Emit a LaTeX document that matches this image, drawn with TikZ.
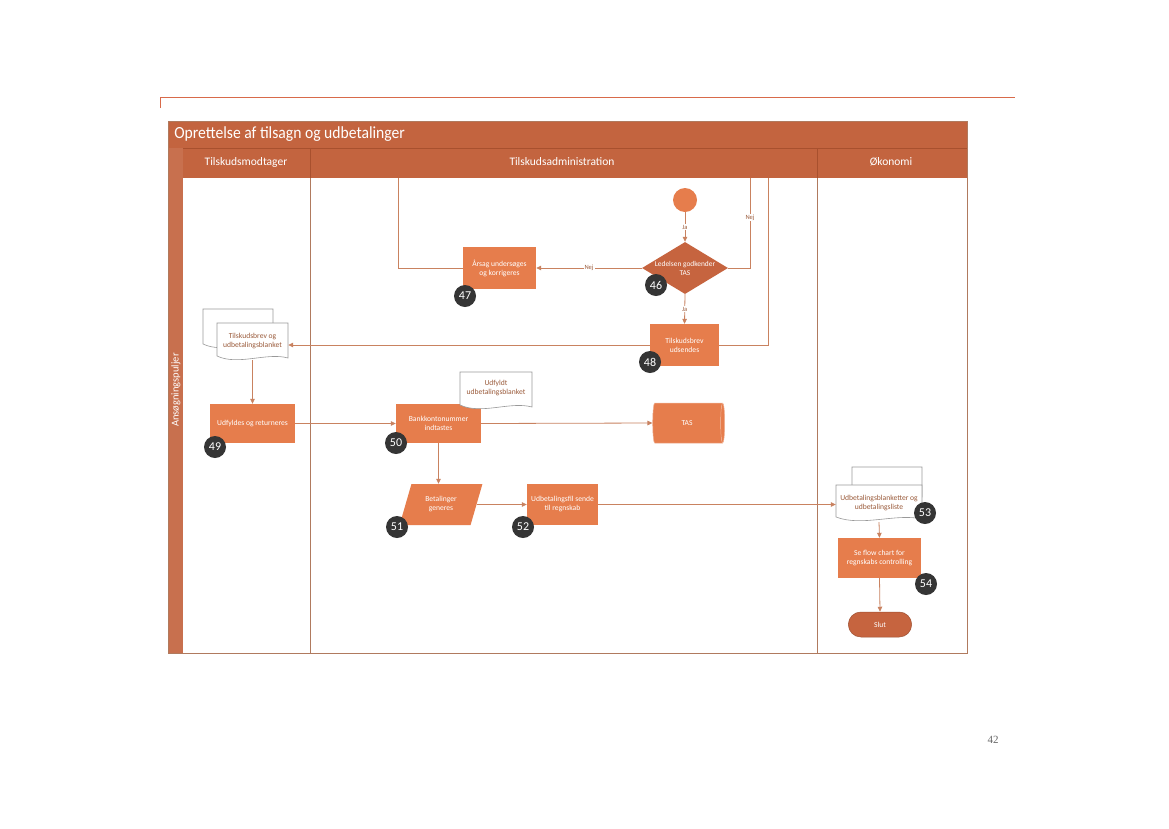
\documentclass[tikz,border=0pt]{standalone}
\usepackage{fontspec}
\setmainfont{Carlito}
\newfontfamily\pgfont{Liberation Serif}
\usetikzlibrary{arrows.meta,shapes.geometric,shapes.misc}
\definecolor{band}{HTML}{C3643F}
\definecolor{bandline}{HTML}{A8502E}
\definecolor{lane}{HTML}{B07A5E}
\definecolor{boxc}{HTML}{E67D4C}
\definecolor{dark}{HTML}{C6643F}
\definecolor{conn}{HTML}{C98260}
\definecolor{badgec}{HTML}{353535}
\definecolor{doctext}{HTML}{9A5A3A}
\definecolor{redline}{HTML}{D86A4A}
\tikzset{
  proc/.style={rectangle, fill=boxc, text=white, align=center, inner sep=1pt, font=\fontsize{7.6}{9}\selectfont},
  badge/.style={circle, fill=badgec, text=white, minimum size=22pt, inner sep=0pt, font=\fontsize{12}{14}\selectfont},
  conn/.style={draw=conn, line width=0.8pt},
  arr/.style={conn, -{Triangle[length=5pt,width=4.5pt]}},
  lbl/.style={fill=white, inner sep=1pt, text=doctext, font=\fontsize{6.5}{7}\selectfont},
  docline/.style={draw=gray!80, line width=0.6pt, fill=white},
  doctxt/.style={rectangle, text=doctext, align=center, inner sep=0pt, font=\fontsize{7.6}{9}\selectfont},
  hdr/.style={text=white, font=\fontsize{11.5}{13}\selectfont}
}
\begin{document}
\begin{tikzpicture}[x=1pt,y=-1pt]
\useasboundingbox[fill=white] (0,0) rectangle (1169,828);
% top rule
\draw[redline, line width=0.6pt] (160,108) -- (160,97) -- (1015,97);
% frame and bands
\fill[band] (168,121) rectangle (967,178);
\fill[band!92!white] (168,148) rectangle (183,653);
\draw[bandline, line width=0.5pt] (183,148) -- (967,148);
\draw[bandline, line width=0.5pt] (310,148) -- (310,178) (817,148) -- (817,178);
\draw[lane, line width=0.6pt] (310,178) -- (310,653) (817,178) -- (817,653);
\draw[lane, line width=0.8pt] (168,121) rectangle (967,653);
\node[anchor=west, text=white, font=\fontsize{17}{20}\selectfont, xscale=0.92] (title) at (171,134) {Oprettelse af tilsagn og udbetalinger};
\node[hdr] (h1) at (246,162) {Tilskudsmodtager};
\node[hdr] (h2) at (562,162) {Tilskudsadministration};
\node[hdr] (h3) at (891,162) {Økonomi};
\node[text=white, font=\fontsize{10.5}{12}\selectfont, rotate=90] (h4) at (176,390) {Ansøgningspuljer};
% coordinates at top of lane
\coordinate (up1) at (398,178);
\coordinate (up2) at (750,178);
\coordinate (up3) at (768,178);
% nodes
\node[circle, fill=boxc, minimum size=24pt, inner sep=0pt] (start) at (685,200) {};
\node[diamond, aspect=1.65, fill=dark, text=white, align=center, minimum width=86pt, minimum height=52pt, inner sep=0pt, font=\fontsize{7.4}{9}\selectfont] (d46) at (685,268) {Ledelsen godkender\\TAS};
\node[proc, minimum width=73pt, minimum height=42pt] (n47) at (499.5,268) {Årsag undersøges\\og korrigeres};
\node[proc, minimum width=69pt, minimum height=42pt] (n48) at (684.5,345) {Tilskudsbrev\\udsendes};
\node[proc, minimum width=85pt, minimum height=39pt] (n49) at (252.5,423.5) {Udfyldes og returneres};
\node[proc, minimum width=85pt, minimum height=39pt] (n50) at (438.5,423.5) {Bankkontonummer\\indtastes};
\node[cylinder, draw=boxc!60!white, line width=0.5pt, shape aspect=0.35, minimum width=40pt, minimum height=72pt, text=white, font=\fontsize{7.6}{9}\selectfont, cylinder uses custom fill, cylinder body fill=boxc, cylinder end fill=boxc] (tas) at (687,423) {TAS};
\node[trapezium, trapezium left angle=68, trapezium right angle=112, trapezium stretches=true, fill=boxc, text=white, align=center, minimum width=83pt, minimum height=41pt, inner sep=0pt, font=\fontsize{7.6}{9}\selectfont] (n51) at (441,504.5) {Betalinger\\generes};
\node[proc, minimum width=71pt, minimum height=41pt] (n52) at (562.5,504.5) {Udbetalingsfil sende\\til regnskab};
\node[proc, minimum width=83pt, minimum height=40pt] (n54) at (879.5,558) {Se flow chart for\\regnskabs controlling};
\node[rounded rectangle, fill=dark, draw=dark!80!black, line width=0.5pt, text=white, minimum width=70pt, minimum height=25pt, font=\fontsize{7.6}{9}\selectfont] (slut) at (880,624.5) {Slut};
% document 1
\draw[docline] (203,309) -- (273,309) -- (273,346) .. controls +(-21,-6) and +(21,10) .. (203,344) -- cycle;
\draw[docline] (217,323) -- (288,323) -- (288,358) .. controls +(-21,-6) and +(21,10) .. (217,356) -- cycle;
\node[doctxt, minimum width=71pt, minimum height=37pt] (doc1) at (252.5,341.5) {Tilskudsbrev og\\udbetalingsblanket};
% document udfyldt
\draw[docline] (460,372) -- (532,372) -- (532,407) .. controls +(-22,-6) and +(22,10) .. (460,405) -- cycle;
\node[doctxt, minimum width=72pt, minimum height=30pt] (doc2) at (496,388) {Udfyldt\\udbetalingsblanket};
% document 53
\draw[docline] (852,467) -- (922,467) -- (922,497) .. controls +(-21,-6) and +(21,10) .. (852,495) -- cycle;
\draw[docline] (836,485) -- (922,485) -- (922,519) .. controls +(-26,-6) and +(26,10) .. (836,517) -- cycle;
\node[doctxt, minimum width=86pt, minimum height=37pt] (doc3) at (879,503.5) {Udbetalingsblanketter og\\udbetalingsliste};
% connectors
\draw[arr] (start) -- node[lbl] {Ja} (d46);
\draw[arr] (d46.west) -- node[lbl] {Nej} (n47.east);
\draw[conn] (n47.west) -| (up1);
\draw[conn] (d46.east) -| node[lbl, pos=0.78] {Nej} (up2);
\draw[arr] (d46.south) -- node[lbl] {Ja} (n48.north);
\draw[conn] (n48.east) -| (up3);
\draw[arr] (n48.west) -- (n48.west -| doc1.east);
\draw[arr] (doc1.south) -- (n49.north);
\draw[arr] (n49.east) -- (n50.west);
\draw[arr] (n50.east) -- (tas.west);
\draw[arr] (n50.south) -- (n50.south |- n51.north);
\draw[arr] (n51.east) -- (n51.east -| n52.west);
\draw[arr] (n52.east) -- (n52.east -| doc3.west);
\draw[arr] (doc3.south) -- (n54.north);
\draw[arr] (n54.south) -- (slut.north);
% badges
\node[badge] (b46) at (656,285) {46};
\node[badge] (b47) at (465,296) {47};
\node[badge] (b48) at (650,362) {48};
\node[badge] (b49) at (215,447) {49};
\node[badge] (b50) at (396,443) {50};
\node[badge] (b51) at (397,527) {51};
\node[badge] (b52) at (523,527) {52};
\node[badge] (b53) at (925,513) {53};
\node[badge] (b54) at (926,584) {54};
% page number
\node[text=gray!80!black, font=\pgfont\fontsize{11}{13}\selectfont] (pg) at (993,740) {42};
\end{tikzpicture}
\end{document}
